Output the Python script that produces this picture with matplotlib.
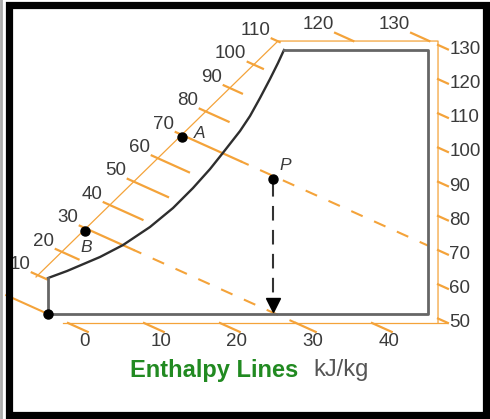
import matplotlib
matplotlib.use("Agg")
from matplotlib import pyplot as plt
from matplotlib.patches import Rectangle

# chart coordinates: x = dry bulb (C), y = humidity ratio (g/kg)
# enthalpy lines follow h ~ T + 2.5 W
sat_T = [0.0, 2.5, 6.84, 9.87, 13.42, 16.45, 19.08, 21.32, 22.89, 25.26, 26.58, 27.89, 29.21, 30.26, 31.05]
sat_W = [4.21, 5.03, 6.67, 8.07, 10.18, 12.40, 14.74, 16.96, 18.71, 21.40, 23.16, 25.26, 27.49, 29.36, 30.88]

diag_h = [10, 20, 30, 40, 50, 60, 70, 80, 90, 100, 110]
top_h = [120, 130]
right_h = [50, 60, 70, 80, 90, 100, 110, 120, 130]
bottom_h = [0, 10, 20, 30, 40]

point_names = ["A", "B", "P"]
point_T = [17.6, 4.9, 29.6]
point_W = [20.7, 9.7, 15.8]

ORANGE = "#f4a33a"
GREY = "#3a3a3a"
FONT = "Liberation Sans"


def w_on(h, t):
    return (h - t) / 2.5


fig = plt.figure(figsize=(4.9, 4.19), dpi=100)
ax = fig.add_axes([0, 0, 1, 1])
ax.set_xlim(-6.32, 58.16)
ax.set_ylim(-12.28, 36.73)
ax.axis("off")

# orange scale frame
d0 = (-1.58, 4.33)
d1 = (30.26, 31.93)
t_top, t_right, w_bot = 31.93, 51.32, -1.05
ax.plot([d0[0], d1[0], t_right, t_right], [d0[1], d1[1], d1[1], w_bot], color=ORANGE, lw=0.9, zorder=2)
ax.plot([1.97, 52.5], [w_bot, w_bot], color=ORANGE, lw=0.9, zorder=2)

# enthalpy 0 line through the corner
ax.plot([-5.5, 0], [w_on(0, -5.5), 0], color=ORANGE, lw=1.5, zorder=2)

# diagonal scale
h0 = d0[0] + 2.5 * d0[1]
h1 = d1[0] + 2.5 * d1[1]
tick_len = [2.0, 3.0, 7.1, 5.1, 5.3, 4.9, 8.6, 3.8, 2.4, 2.0, 1.05]
diag_end = {}
for h, ln in zip(diag_h, tick_len):
    s = (h - h0) / (h1 - h0)
    tc = d0[0] + s * (d1[0] - d0[0])
    t0 = tc - 0.8
    t1 = t0 + ln
    diag_end[h] = t1
    ax.plot([t0, t1], [w_on(h, t0), w_on(h, t1)], color=ORANGE, lw=1.6, zorder=2)
    ax.text(t0 - 0.2, w_on(h, t0) + 0.94, str(h), ha="right", va="center",
            fontsize=13.5, color=GREY, family=FONT, zorder=3)

# top scale
for h in top_h:
    t1 = h - 2.5 * t_top
    t0 = t1 - 2.4
    ax.plot([t0, t1], [w_on(h, t0), w_on(h, t1)], color=ORANGE, lw=1.6, zorder=2)
    ax.text(t0 - 0.2, w_on(h, t0) + 0.94, str(h), ha="right", va="center",
            fontsize=13.5, color=GREY, family=FONT, zorder=3)

# right scale
for h in right_h:
    t0, t1 = t_right, t_right + 1.3
    ax.plot([t0, t1], [w_on(h, t0), w_on(h, t1)], color=ORANGE, lw=1.6, zorder=2)
    ax.text(t1 + 0.2, w_on(h, t1), str(h), ha="left", va="center",
            fontsize=13.5, color=GREY, family=FONT, zorder=3)

# bottom scale
for h in bottom_h:
    t0 = h - 2.5 * w_bot
    t1 = t0 + 2.6
    ax.plot([t0, t1], [w_on(h, t0), w_on(h, t1)], color=ORANGE, lw=1.6, zorder=2)
    ax.text(t1 - 0.4, -3.27, str(h), ha="center", va="center",
            fontsize=13.5, color=GREY, family=FONT, zorder=3)

# dashed enthalpy lines through A and B
ax.plot([diag_end[70], 50], [w_on(70, diag_end[70]), w_on(70, 50)], color=ORANGE,
        lw=1.5, ls=(2, (6, 6)), zorder=2)
tb = 30 - 2.5 * w_bot
ax.plot([diag_end[30], tb], [w_on(30, diag_end[30]), w_bot], color=ORANGE,
        lw=1.5, ls=(2, (6, 6)), zorder=2)

# saturation curve and chart box
ax.plot(sat_T, sat_W, color="#2e2e2e", lw=1.7, zorder=4, solid_joinstyle="round")
ax.plot([sat_T[-1], 50, 50, 0, 0], [sat_W[-1], sat_W[-1], 0, 0, sat_W[0]],
        color="#666666", lw=2.0, zorder=4)

# points
ax.plot([0], [0], "o", color="black", ms=6.5, zorder=6)
ax.plot(point_T, point_W, "o", color="black", ms=6.5, zorder=6)
label_off = {"A": (2.4, 0.4), "B": (0.1, -1.9), "P": (1.6, 1.6)}
for name, t, w in zip(point_names, point_T, point_W):
    dx, dy = label_off[name]
    ax.text(t + dx, w + dy, name, ha="center", va="center", fontsize=12.5,
            style="italic", color=GREY, family=FONT, zorder=6)

# drop from P to the bottom
pt, pw = point_T[2], point_W[2]
ax.plot([pt, pt], [pw - 0.4, 1.6], color="#333333", lw=1.5, ls=(0, (7, 4.5)), zorder=5)
ax.plot([pt], [1.05], marker="v", color="black", ms=10, zorder=6)

# caption
ax.text(10.8, -6.55, "Enthalpy Lines", ha="left", va="center", fontsize=17,
        fontweight="bold", color="#218a21", family=FONT)
ax.text(34.9, -6.55, "kJ/kg", ha="left", va="center", fontsize=17,
        color="#555555", family=FONT)

# picture frame
ax.add_patch(Rectangle((-5.07, -11.78), 57.63 + 5.07, 36.15 + 11.78, fill=False,
                       ec="black", lw=5.2, zorder=10, joinstyle="miter"))
ax.axvline(-6.15, color="#aaaaaa", lw=2.0, zorder=10)

fig.savefig("out.png", dpi=100)
